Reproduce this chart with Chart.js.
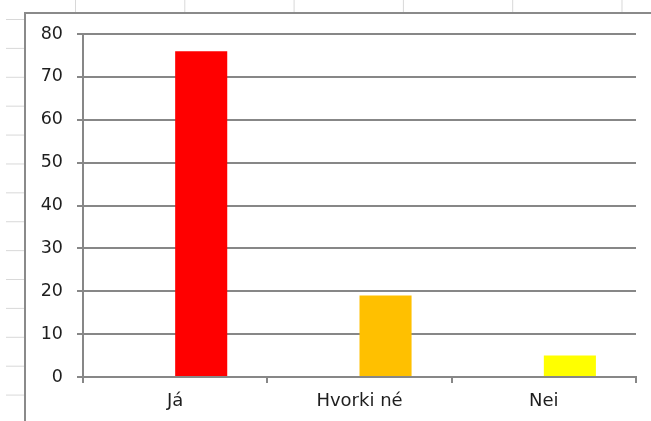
<!DOCTYPE html>
<html>
<head>
<meta charset="utf-8">
<title>Já / Hvorki né / Nei</title>
<script src="https://cdn.jsdelivr.net/npm/chart.js@4"></script>
<style>
  html, body { margin: 0; padding: 0; background: #fff; }
  body { width: 651px; height: 421px; position: relative; overflow: hidden; }
  /* worksheet cell grid behind the chart object */
  .sheet-v {
    position: absolute; left: 0; top: 0; width: 651px; height: 421px;
    background-image: linear-gradient(to right, #d8d8d8 1px, transparent 1px);
    background-size: 109.3px 100%;
    background-position: 75px 0;
  }
  .sheet-h {
    position: absolute; left: 6px; top: 0; width: 645px; height: 421px;
    background-image: linear-gradient(to bottom, #d8d8d8 1px, transparent 1px);
    background-size: 100% 28.9px;
    background-position: 0 19px;
  }
  .chart-frame {
    position: absolute; left: 24px; top: 12px; width: 640px; height: 420px;
    background: #fff;
    border-top: 2px solid #8a8a8a;
    border-left: 2px solid #8a8a8a;
  }
  #chart { position: absolute; left: 0; top: 0; }
</style>
</head>
<body>
<div class="sheet-v"></div>
<div class="sheet-h"></div>
<div class="chart-frame"></div>
<canvas id="chart" width="651" height="421"></canvas>
<script>
const categories = ['Já', 'Hvorki né', 'Nei'];
const answers = [76, 19, 5];
const blankSeries = [null, null, null];
const barColors = ['#FF0000', '#FFC000', '#FFFF00'];
const yTicks = [0, 10, 20, 30, 40, 50, 60, 70, 80];

const axisGrey = '#878787';
const textColor = '#1e1e1e';
const xFont = { family: '"DejaVu Sans", sans-serif', size: 18 };
const yFont = { family: '"DejaVu Sans", sans-serif', size: 17.5 };

new Chart(document.getElementById('chart'), {
  type: 'bar',
  data: {
    labels: categories,
    datasets: [
      { label: '', data: blankSeries, backgroundColor: 'transparent' },
      { label: 'Svör', data: answers, backgroundColor: barColors, borderWidth: 0 }
    ]
  },
  options: {
    responsive: false,
    animation: false,
    devicePixelRatio: 1,
    categoryPercentage: 0.565,
    barPercentage: 1,
    layout: { padding: { top: 34, right: 15, bottom: 0, left: 0 } },
    plugins: { legend: { display: false }, tooltip: { enabled: false } },
    scales: {
      x: {
        grid: {
          offset: true,
          drawOnChartArea: false,
          drawTicks: true,
          tickLength: 6,
          color: axisGrey,
          lineWidth: 2
        },
        border: { display: true, color: axisGrey, width: 2 },
        ticks: { color: textColor, font: xFont, padding: 8, maxRotation: 0 },
        afterFit: s => { s.height = 44; }
      },
      y: {
        min: 0,
        max: 80,
        afterBuildTicks: s => { s.ticks = yTicks.map(v => ({ value: v })); },
        grid: {
          color: axisGrey,
          lineWidth: 2,
          drawTicks: true,
          tickLength: 6
        },
        border: { display: true, color: axisGrey, width: 2 },
        ticks: { color: textColor, font: yFont, padding: 14 },
        afterFit: s => { s.width = 83; }
      }
    }
  }
});
</script>
</body>
</html>
